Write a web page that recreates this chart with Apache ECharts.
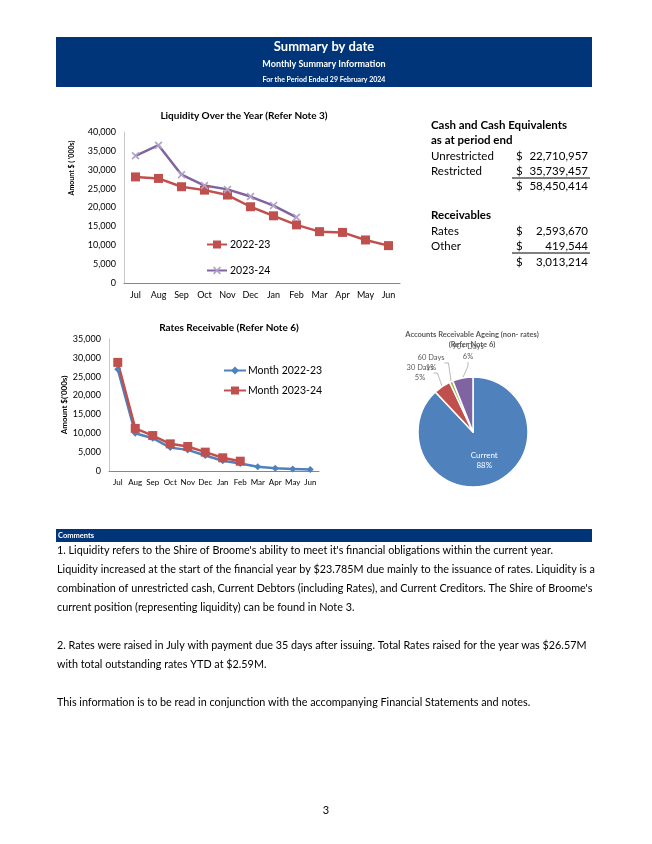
<!DOCTYPE html>
<html><head><meta charset="utf-8">
<script src="https://cdn.jsdelivr.net/npm/echarts@6/dist/echarts.min.js"></script>
<style>html,body{margin:0;padding:0;background:#fff;}#c{width:652px;height:844px;}</style>
</head><body><div id="c"></div>
<script>
const months = ['Jul','Aug','Sep','Oct','Nov','Dec','Jan','Feb','Mar','Apr','May','Jun'];
const liquidity2223 = [28100,27700,25500,24600,23300,20200,17800,15400,13600,13400,11400,9900];
const liquidity2324 = [33700,36500,28700,25800,24800,22900,20500,17400];
const rates2223 = [27000,10000,8700,6200,5600,4100,2700,2000,1150,700,550,400];
const rates2324 = [28800,11300,9400,7200,6500,5000,3500,2600];
const liqTicks = [0,5000,10000,15000,20000,25000,30000,35000,40000];
const rateTicks = [0,5000,10000,15000,20000,25000,30000,35000];
const ageingLabels = ['Current','30 Days','60 Days','90+ Days'];
const ageingPct = [88,5,1,6];
const cashRows = [['Unrestricted','22,710,957'],['Restricted','35,739,457']];
const cashTotal = '58,450,414';
const recvRows = [['Rates','2,593,670'],['Other','419,544']];
const recvTotal = '3,013,214';
const commentLines = [
 "1. Liquidity refers to the Shire of Broome's ability to meet it's financial obligations within the current year.",
 "Liquidity increased at the start of the financial year by $23.785M due mainly to the issuance of rates. Liquidity is a",
 "combination of unrestricted cash, Current Debtors (including Rates), and Current Creditors. The Shire of Broome's",
 "current position (representing liquidity) can be found in Note 3.",
 "",
 "2. Rates were raised in July with payment due 35 days after issuing. Total Rates raised for the year was $26.57M",
 "with total outstanding rates YTD at $2.59M.",
 "",
 "This information is to be read in conjunction with the accompanying Financial Statements and notes."
];

const F = 'Lato, "Open Sans", sans-serif';
const NAVY = '#00357A';
const chart = echarts.init(document.getElementById('c'), null, {renderer:'canvas'});
const fmt = v => v.toLocaleString('en-US');
const xMark = 'path://M0,1.5L1.5,0L5,3.5L8.5,0L10,1.5L6.5,5L10,8.5L8.5,10L5,6.5L1.5,10L0,8.5L3.5,5Z';

const g = [];
g.push({type:'rect',shape:{x:56,y:37,width:536,height:50},style:{fill:NAVY}});
g.push({type:'text',x:324,y:47,style:{text:'Summary by date',font:'bold 13px '+F,fill:'#fff',align:'center',verticalAlign:'middle'}});
g.push({type:'text',x:324,y:64,style:{text:'Monthly Summary Information',font:'bold 9px '+F,fill:'#fff',align:'center',verticalAlign:'middle'}});
g.push({type:'text',x:324,y:80,style:{text:'For the Period Ended 29 February 2024',font:'bold 7px '+F,fill:'#fff',align:'center',verticalAlign:'middle'}});
g.push({type:'text',x:244,y:116,style:{text:'Liquidity Over the Year (Refer Note 3)',font:'bold 10px '+F,fill:'#000',align:'center',verticalAlign:'middle'}});
g.push({type:'text',x:72,y:168,rotation:Math.PI/2,style:{text:"Amount $ ( '000s)",font:'bold 7px '+F,fill:'#000',align:'center',verticalAlign:'middle'}});
g.push({type:'text',x:229,y:328,style:{text:'Rates Receivable (Refer Note 6)',font:'bold 10px '+F,fill:'#000',align:'center',verticalAlign:'middle'}});
g.push({type:'text',x:472,y:335,style:{text:'Accounts Receivable Ageing (non- rates)',font:'bold 7.5px '+F,fill:'#595959',align:'center',verticalAlign:'middle'}});
g.push({type:'text',x:472,y:345,style:{text:'(Refer Note 6)',font:'bold 7.5px '+F,fill:'#595959',align:'center',verticalAlign:'middle'}});
const tf = '11.5px '+F, tb = 'bold 11.5px '+F;
const addT = (x,y,t,font,align) => g.push({type:'text',x:x,y:y,style:{text:t,font:font,fill:'#000',align:align||'left',verticalAlign:'middle'}});
addT(431,125,'Cash and Cash Equivalents',tb);
addT(431,140,'as at period end',tb);
cashRows.forEach((r,i)=>{const y=156+i*15.5; addT(431,y,r[0],tf); addT(516,y,'$',tf); addT(588,y,r[1],tf,'right');});
g.push({type:'line',shape:{x1:512,y1:178,x2:590,y2:178},style:{stroke:'#000',lineWidth:1}});
addT(516,186,'$',tf); addT(588,186,cashTotal,tf,'right');
addT(431,215,'Receivables',tb);
recvRows.forEach((r,i)=>{const y=231+i*15.5; addT(431,y,r[0],tf); addT(516,y,'$',tf); addT(588,y,r[1],tf,'right');});
g.push({type:'line',shape:{x1:512,y1:253,x2:590,y2:253},style:{stroke:'#000',lineWidth:1}});
addT(516,262,'$',tf); addT(588,262,recvTotal,tf,'right');
g.push({type:'rect',shape:{x:56,y:529,width:536,height:13},style:{fill:NAVY}});
g.push({type:'text',x:58,y:535.5,style:{text:'Comments',font:'bold 7.5px '+F,fill:'#fff',verticalAlign:'middle'}});
commentLines.forEach((t,i)=>{ if(t) addT(57,551+i*19,t,'10.8px '+F); });
addT(326,810,'3','11px '+F,'center');

const axisLbl = {fontFamily:F,fontSize:9,color:'#000'};
const option = {
  animation:false,
  graphic:{elements:g},
  grid:[
    {left:124,top:132,width:276,height:151},
    {left:109,top:339,width:210,height:132}
  ],
  xAxis:[
    {gridIndex:0,type:'category',data:months,axisLine:{lineStyle:{color:'#868686'}},axisTick:{show:false},axisLabel:Object.assign({margin:8,interval:0},axisLbl)},
    {gridIndex:1,type:'category',data:months,axisLine:{lineStyle:{color:'#868686'}},axisTick:{show:false},axisLabel:Object.assign({},axisLbl,{margin:7,interval:0,fontSize:8})}
  ],
  yAxis:[
    {gridIndex:0,type:'value',min:liqTicks[0],max:liqTicks[liqTicks.length-1],interval:liqTicks[1]-liqTicks[0],splitLine:{show:false},axisLine:{show:true,lineStyle:{color:'#c8c8c8'}},axisTick:{show:false},axisLabel:Object.assign({margin:8,formatter:fmt},axisLbl)},
    {gridIndex:1,type:'value',min:rateTicks[0],max:rateTicks[rateTicks.length-1],interval:rateTicks[1]-rateTicks[0],splitLine:{show:false},axisLine:{show:true,lineStyle:{color:'#c8c8c8'}},axisTick:{show:false},
     name:"Amount $('000s)",nameLocation:'middle',nameGap:41,nameTextStyle:{fontFamily:F,fontWeight:'bold',fontSize:8,color:'#000'},
     axisLabel:Object.assign({margin:8,formatter:fmt},axisLbl,{fontSize:9})}
  ],
  legend:[
    {data:['2022-23','2023-24'],left:201,top:234,orient:'vertical',itemGap:15,itemWidth:20,itemHeight:10,textStyle:{fontFamily:F,fontSize:10.5,color:'#000',padding:[0,0,0,-2]}},
    {data:['Month 2022-23','Month 2023-24'],left:218,top:360,orient:'vertical',itemGap:9,itemWidth:22,itemHeight:10,textStyle:{fontFamily:F,fontSize:10.5,color:'#000',padding:[0,0,0,-3]}}
  ],
  series:[
    {name:'2022-23',type:'line',xAxisIndex:0,yAxisIndex:0,data:liquidity2223,symbol:'rect',symbolSize:9,
     lineStyle:{color:'#C0504D',width:2.5},itemStyle:{color:'#C0504D'}},
    {name:'2023-24',type:'line',xAxisIndex:0,yAxisIndex:0,data:liquidity2324,symbol:xMark,symbolSize:8,
     lineStyle:{color:'#8064A2',width:2.5},itemStyle:{color:'#B3A2C7'}},
    {name:'Month 2022-23',type:'line',xAxisIndex:1,yAxisIndex:1,data:rates2223,symbol:'diamond',symbolSize:7,
     lineStyle:{color:'#4F81BD',width:2.5},itemStyle:{color:'#4F81BD'}},
    {name:'Month 2023-24',type:'line',xAxisIndex:1,yAxisIndex:1,data:rates2324,symbol:'rect',symbolSize:9,
     lineStyle:{color:'#C0504D',width:2.5},itemStyle:{color:'#C0504D'}},
    {name:'Ageing',type:'pie',center:[473,432],radius:55,startAngle:90,clockwise:true,
     data:ageingLabels.map((n,i)=>({name:n,value:ageingPct[i]})),
     color:['#4F81BD','#C0504D','#9BBB59','#8064A2'],
     itemStyle:{borderColor:'#fff',borderWidth:1.5},
     label:{formatter:'{b}\n{d}%',fontFamily:F,fontSize:7.5,color:'#595959',lineHeight:10,position:'outside'},
     labelLine:{show:true,length:6,length2:4,lineStyle:{color:'#a6a6a6',width:0.8}},
     labelLayout:function(p){
       const pos=[null,[420,373],[431,363],[468,352]];
       if(p.dataIndex===0) return {};
       const q=pos[p.dataIndex];
       return {x:q[0],y:q[1],align:'center',verticalAlign:'middle',moveOverlap:false,hideOverlap:false};
     },
     emphasis:{disabled:true}
    }
  ]
};
option.series[4].data[0].label={position:'inside',color:'#fff',fontSize:8,offset:[0,0]};
option.series[4].data[0].labelLine={show:false};
chart.setOption(option);
</script></body></html>
